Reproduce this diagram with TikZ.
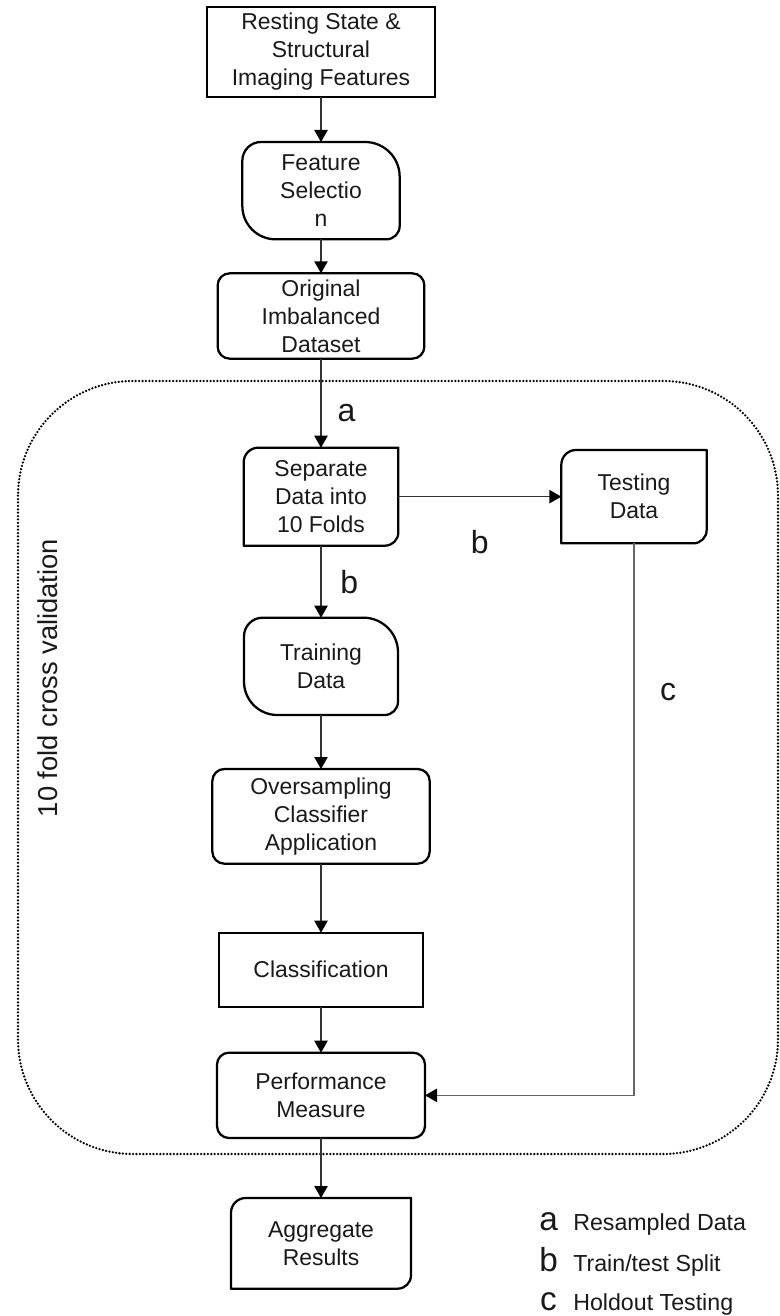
\documentclass[tikz,border=0pt]{standalone}
\usepackage{fontspec}
\setmainfont{Liberation Sans}
\usetikzlibrary{positioning, arrows.meta}

\tikzstyle{base} = [rectangle, align=center, outer sep=0pt, inner sep=0pt, text=black!90, font=\fontsize{17.2}{21}\selectfont]
\tikzstyle{sharpbox} = [base, draw=black, line width=1.7pt]
\tikzstyle{roundbox} = [base, draw=black, line width=1.7pt, rounded corners=9pt]
\tikzstyle{openbox} = [base]
\tikzstyle{outline} = [draw=black, line width=1.7pt, line join=round]
\tikzstyle{arrow} = [line width=1pt, draw=black!80, -{Triangle[width=10pt, length=9pt, color=black]}]
\tikzstyle{letter} = [inner sep=0pt, text=black!90, font=\fontsize{24}{24}\selectfont]
\tikzstyle{keytext} = [anchor=base west, inner sep=0pt, text=black!90, font=\fontsize{17.4}{20}\selectfont]
\tikzstyle{frame} = [line width=1.9pt, line cap=round, dash pattern=on 0pt off 2.55pt, rounded corners=86pt]

% outline with its own radius at each corner: node, top left, top right, bottom right, bottom left
\newcommand{\boxoutline}[5]{%
  \draw[outline] ([xshift=#2]#1.north west) -- ([xshift=-#3]#1.north east)
    arc[start angle=90, end angle=0, radius=#3] -- ([yshift=#4]#1.south east)
    arc[start angle=0, end angle=-90, radius=#4] -- ([xshift=#5]#1.south west)
    arc[start angle=270, end angle=180, radius=#5] -- ([yshift=-#2]#1.north west)
    arc[start angle=180, end angle=90, radius=#2] -- cycle;}
\newcommand{\snipbox}[1]{\boxoutline{#1}{11pt}{0.01pt}{10pt}{0.01pt}}
\newcommand{\leafbox}[1]{\boxoutline{#1}{14pt}{26pt}{10pt}{25pt}}

\begin{document}
\begin{tikzpicture}
\useasboundingbox (0,0) rectangle (585pt,-987pt);

% cross validation frame
\draw[frame] (13.5pt,-285.75pt) rectangle (583.5pt,-865.5pt);
\node (cvlabel) [rotate=90, inner sep=0pt, text=black!90, font=\fontsize{20.5}{24}\selectfont] at (36pt,-508.5pt) {10 fold cross validation};

\node (rest) [sharpbox, minimum width=171pt, minimum height=67.5pt] at (240.75pt,-39pt) {Resting State \&\\Structural\\Imaging Features};
\node (feat) [openbox, minimum width=118pt, minimum height=73pt, below=33.75pt of rest] {Feature\\Selectio\\n};
\node (orig) [roundbox, minimum width=155pt, minimum height=64pt, below=25.5pt of feat] {Original\\Imbalanced\\Dataset};
\node (sep) [openbox, minimum width=116pt, minimum height=73.5pt, below=66.75pt of orig] {Separate\\Data into\\10 Folds};
\node (test) [openbox, minimum width=109pt, minimum height=70pt, right=122.25pt of sep] {Testing\\Data};
\node (train) [openbox, minimum width=115.5pt, minimum height=73pt, below=54pt of sep] {Training\\Data};
\node (over) [roundbox, minimum width=163pt, minimum height=71pt, below=40.5pt of train] {Oversampling\\Classifier\\Application};
\node (clas) [sharpbox, minimum width=153pt, minimum height=55.5pt, below=51.75pt of over] {Classification};
\node (perf) [roundbox, minimum width=156pt, minimum height=64pt, below=34.5pt of clas] {Performance\\Measure};
\node (aggr) [openbox, minimum width=135pt, minimum height=68pt, below=45pt of perf] {Aggregate\\Results};

\leafbox{feat}
\leafbox{train}
\snipbox{sep}
\snipbox{test}
\snipbox{aggr}

\draw [arrow] (rest) -- (feat);
\draw [arrow] (feat) -- (orig);
\draw [arrow] (orig) -- node[letter, pos=0.61, right=12pt]{a} (sep);
\draw [arrow] (sep) -- node[letter, midway, below=24.75pt]{b} (test);
\draw [arrow] (sep) -- node[letter, midway, right=14pt]{b} (train);
\draw [arrow] (train) -- (over);
\draw [arrow] (over) -- (clas);
\draw [arrow] (clas) -- (perf);
\draw [arrow, draw=black!60] (test) |- node[letter, pos=0.135, right=19pt]{c} (perf);
\draw [arrow] (perf) -- (aggr);

% key
\node (keya) [letter, anchor=base, font=\fontsize{25}{25}\selectfont] at (411.4pt,-922.5pt) {a};
\node (keyb) [letter, anchor=base, font=\fontsize{25}{25}\selectfont] at (411.4pt,-953.25pt) {b};
\node (keyc) [letter, anchor=base, font=\fontsize{25}{25}\selectfont] at (411.4pt,-982.5pt) {c};
\node (texta) [keytext] at (429.75pt,-922.5pt) {Resampled Data};
\node (textb) [keytext] at (429.75pt,-953.25pt) {Train/test Split};
\node (textc) [keytext] at (429.75pt,-982.5pt) {Holdout Testing};

\end{tikzpicture}
\end{document}
